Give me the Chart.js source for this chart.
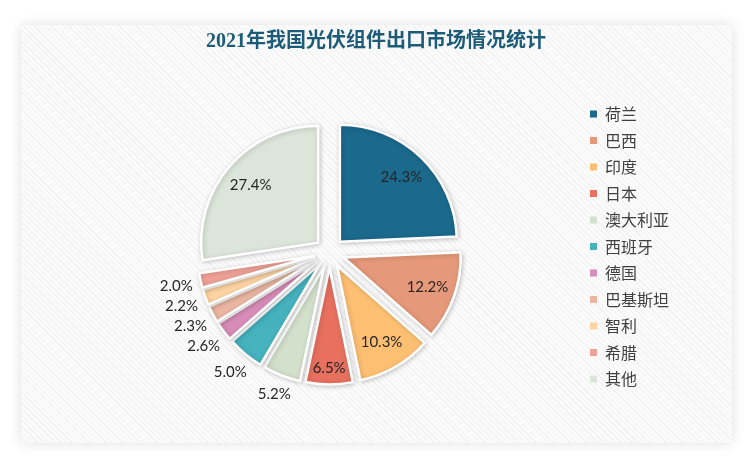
<!DOCTYPE html>
<html><head><meta charset="utf-8">
<script src="https://cdn.jsdelivr.net/npm/chart.js@4"></script>
<style>
html,body{margin:0;padding:0;background:#fff;width:750px;height:461px;overflow:hidden}
#card{position:absolute;left:21px;top:25px;width:711px;height:418px;background-color:#fbfbfb;
background-image:repeating-linear-gradient(45deg, rgba(0,0,0,0.04) 0 1px, transparent 1px 4px);
box-shadow:0 0 12px rgba(0,0,0,0.13)}
canvas{position:absolute;left:0;top:0}
</style></head><body>
<div id="card"></div>
<canvas id="c" width="750" height="461" style="width:750px;height:461px"></canvas>
<script>
const titleText = '2021年我国光伏组件出口市场情况统计';
const categories = ['荷兰','巴西','印度','日本','澳大利亚','西班牙','德国','巴基斯坦','智利','希腊','其他'];
const shares = [24.3, 12.2, 10.3, 6.5, 5.2, 5.0, 2.6, 2.3, 2.2, 2.0, 27.4];
const colors = ['#1B698C','#E5997A','#FDBF72','#E8705F','#D3E0CC','#45B2BE','#D88DB8','#EBB6A2','#FED4A3','#EEA196','#DCE5D9'];
const explode = 15;

const shadowPlugin = {
  id: 'shadow',
  beforeDatasetsDraw(chart) {
    const ctx = chart.ctx;
    ctx.save();
    ctx.shadowColor = 'rgba(0,0,0,0.2)';
    ctx.shadowBlur = 5;
    ctx.shadowOffsetX = 1;
    ctx.shadowOffsetY = 1;
  },
  afterDatasetsDraw(chart) { chart.ctx.restore(); }
};

const explodePlugin = {
  id: 'explode',
  afterDatasetsUpdate(chart) {
    chart.getDatasetMeta(0).data.forEach(arc => {
      const m = (arc.startAngle + arc.endAngle) / 2;
      arc.x += Math.cos(m) * explode;
      arc.y += Math.sin(m) * explode;
    });
  }
};

const labelPlugin = {
  id: 'sliceLabels',
  afterDatasetsDraw(chart) {
    const ctx = chart.ctx;
    const meta = chart.getDatasetMeta(0);
    const vals = chart.data.datasets[0].data;
    const total = vals.reduce((a, b) => a + b, 0);
    ctx.save();
    ctx.font = '15px Lato';
    ctx.fillStyle = '#262626';
    ctx.textAlign = 'center';
    ctx.textBaseline = 'middle';
    meta.data.forEach((arc, i) => {
      const txt = vals[i].toFixed(1) + '%';
      const w = ctx.measureText(txt).width;
      const mid = (arc.startAngle + arc.endAngle) / 2;
      const half = (arc.endAngle - arc.startAngle) / 2;
      const R = arc.outerRadius;
      const c = Math.cos(mid), s = Math.sin(mid);
      let r;
      if (vals[i] / total >= 0.06) {
        r = Math.max(0.76 * R, (w / 2 + 4) / Math.sin(half));
      } else {
        r = R + 7 + (w / 2) * Math.abs(c) + 8 * Math.abs(s);
      }
      ctx.fillText(txt, arc.x + c * r, arc.y + s * r);
    });
    ctx.restore();
  }
};

new Chart(document.getElementById('c'), {
  type: 'pie',
  data: {
    labels: categories,
    datasets: [{
      data: shares,
      backgroundColor: colors,
      borderColor: '#ffffff',
      borderWidth: 2.5,
      borderJoinStyle: 'miter',
      radius: 117
    }]
  },
  options: {
    responsive: false,
    animation: false,
    events: [],
    layout: { padding: { left: 79.5, right: 77.5, top: 10, bottom: 10 } },
    plugins: {
      tooltip: { enabled: false },
      title: {
        display: true,
        text: titleText,
        color: '#1D5C79',
        font: { family: "'Liberation Serif', 'Noto Sans CJK SC'", size: 20, weight: 'bold', lineHeight: 1.2 },
        padding: { top: 20, bottom: 0 }
      },
      legend: {
        position: 'right',
        align: 'center',
        maxWidth: 93,
        title: { display: true, text: ' ', color: 'rgba(0,0,0,0)', font: { size: 20, lineHeight: 1 }, padding: 6 },
        labels: {
          boxWidth: 7,
          boxHeight: 7,
          padding: 10.5,
          color: '#404040',
          font: { family: "'Noto Sans CJK SC'", size: 16 },
          generateLabels(chart) {
            const ds = chart.data.datasets[0];
            return chart.data.labels.map((l, i) => ({
              text: l, fillStyle: ds.backgroundColor[i], strokeStyle: ds.backgroundColor[i],
              lineWidth: 0, hidden: false, index: i, fontColor: '#404040'
            }));
          }
        }
      }
    }
  },
  plugins: [explodePlugin, shadowPlugin, labelPlugin]
});
</script>
</body></html>
